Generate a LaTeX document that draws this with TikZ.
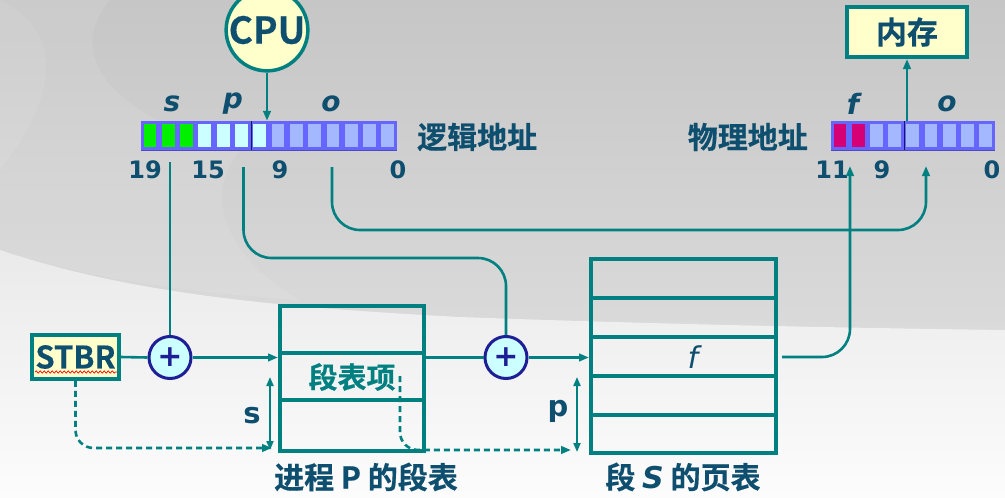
\documentclass[tikz,border=0pt]{standalone}
\usepackage{fontspec}
\usetikzlibrary{arrows.meta,calc,decorations.pathmorphing}
\newfontfamily\cjk{Noto Sans CJK SC}[BoldFont={Noto Sans CJK SC Bold}, BoldFeatures={FakeBold=0.5}]
\newfontfamily\lat{Noto Sans CJK SC}[BoldFont={Noto Sans CJK SC Bold}, BoldFeatures={FakeBold=0.3}]
\newfontfamily\dv{DejaVu Sans}
\definecolor{tl}{RGB}{0,128,128}
\definecolor{nv}{RGB}{14,78,110}
\definecolor{ly}{RGB}{255,255,204}
\definecolor{rb}{RGB}{102,102,255}
\definecolor{cb}{RGB}{163,184,255}
\definecolor{cc}{RGB}{204,255,255}
\definecolor{gg}{RGB}{0,240,0}
\definecolor{mg}{RGB}{214,0,118}
\definecolor{ad}{RGB}{30,30,150}
\definecolor{bgtop}{RGB}{198,198,198}
\definecolor{bgmid}{RGB}{218,218,218}
\definecolor{bglo}{RGB}{234,234,234}
\definecolor{bgbot}{RGB}{252,252,252}
\begin{document}
\begin{tikzpicture}[x=1pt,y=-1pt,
  ln/.style={draw=tl, line width=2.6},
  tip/.style={-{Triangle[length=10pt,width=7.5pt]}},
  dtip/.style={{Triangle[length=9pt,width=7pt]}-{Triangle[length=9pt,width=7pt]}},
  dsh/.style={draw=tl, line width=2.6, dash pattern=on 6pt off 4pt},
  ybox/.style={draw=tl, line width=4, fill=ly, inner sep=0},
  adder/.style={circle, draw=ad, line width=3, fill=cc, minimum size=42, inner sep=0,
     text=ad, font=\dv\bfseries\fontsize{30}{30}\selectfont},
  tab/.style={draw=tl, line width=4, inner sep=0},
  reg/.style={fill=rb, inner sep=0},
  num/.style={text=nv, inner sep=0, font=\dv\bfseries\fontsize{24}{26}\selectfont},
  fld/.style={text=nv, inner sep=0, font=\dv\bfseries\itshape\fontsize{28}{30}\selectfont},
  cjkl/.style={text=nv, inner sep=0, font=\cjk\bfseries\fontsize{30}{32}\selectfont},
  sml/.style={text=nv, inner sep=0, font=\dv\bfseries\fontsize{29}{32}\selectfont}]
% background
\useasboundingbox (0,0) rectangle (1005,498);
\shade[top color=bgtop, bottom color=bgmid] (0,0) rectangle (1005,330);
\shade[top color=bglo, bottom color=bgbot] (0,250) .. controls (120,290) and (250,306) .. (460,317)
   .. controls (650,324) and (850,328) .. (1005,330) -- (1005,498) -- (0,498) -- cycle;
\fill[white, opacity=0.09] (0,0) -- (110,0) .. controls (60,60) and (120,120) .. (240,150)
   .. controls (200,200) and (230,260) .. (300,300) .. controls (150,290) and (60,270) .. (0,250) -- cycle;
\fill[white, opacity=0.07] (0,0) .. controls (80,40) and (40,120) .. (0,170) -- cycle;

% CPU
\node[circle, draw=tl, line width=3.5, fill=ly, minimum size=78, inner sep=0,
  text=nv, font=\lat\bfseries\fontsize{37}{38}\selectfont] (cpu) at (267,30) {CPU};

% logical address register
\node[reg, minimum width=256, minimum height=29] (laddr) at (269,135.5) {};
\foreach \i/\c in {0/gg,1/gg,2/gg,3/cc,4/cc,5/cc,6/cc,7/cb,8/cb,9/cb,10/cb,11/cb,12/cb,13/cb}
  \fill[\c] ($(laddr.north west)+(2.8+18.29*\i,3.5)$) rectangle ++(12.8,22.5);
\draw[ad!70!black, line width=1] ($(laddr.north west)+(110.7,0)$) -- ++(0,29);
\draw[rb!75!black, line width=1] (laddr.south west) -- (laddr.south east);
\node[fld] (ls) at (172,104) {s};
\node[fld] (lp) at (233,104) {p};
\node[fld] (lo) at (331,104) {o};
\node[num] (n19) at (145,170) {19};
\node[num] (n15) at (208,170) {15};
\node[num] (n9) at (280,170) {9};
\node[num] (n0) at (398,170) {0};
\node[cjkl, anchor=west] (llab) at (417,137) {逻辑地址};

% physical address register
\node[reg, minimum width=164, minimum height=29] (paddr) at (913,135.5) {};
\foreach \i/\c in {0/mg,1/mg,2/cb,3/cb,4/cb,5/cb,6/cb,7/cb,8/cb}
  \fill[\c] ($(paddr.north west)+(2.8+18.2*\i,3.5)$) rectangle ++(12.8,22.5);
\draw[ad!70!black, line width=1] ($(paddr.north west)+(73.6,0)$) -- ++(0,29);
\draw[rb!75!black, line width=1] (paddr.south west) -- (paddr.south east);
\node[fld] (pf) at (853,104) {f};
\node[fld] (po) at (947,104) {o};
\node[num] (m11) at (832,170) {11};
\node[num] (m9) at (882,170) {9};
\node[num] (m0) at (992,170) {0};
\node[cjkl, anchor=east] (plab) at (808,137) {物理地址};

% memory
\node[ybox, minimum width=120, minimum height=50, text=nv,
  font=\cjk\bfseries\fontsize{31}{32}\selectfont] (mem) at (907,32) {内存};

% STBR and adders
\node[ybox, line width=3.5, minimum width=87, minimum height=44, text=nv,
  font=\lat\bfseries\fontsize{31}{32}\selectfont] (stbr) at (75.5,357) {STBR};
\draw[red, line width=0.7, decorate, decoration={snake, amplitude=1.1pt, segment length=4pt}]
  (35,372) -- (117,372);
\node[adder] (add1) at (170,357.5) {+};
\node[adder] (add2) at (506,357.5) {+};

% segment table
\node[tab, minimum width=144, minimum height=145] (segtab) at (352,378.5) {};
\draw[tl, line width=4] (segtab.west |- 0,353) -- (segtab.east |- 0,353);
\draw[tl, line width=4] (segtab.west |- 0,400) -- (segtab.east |- 0,400);
\node[text=tl, inner sep=0, font=\cjk\bfseries\fontsize{29}{30}\selectfont] (sent) at (352,377) {段表项};
\node[cjkl] (sname) at (366,477) {进程 {\lat\bfseries P} 的段表};

% page table
\node[tab, minimum width=185, minimum height=194] (pagetab) at (683.5,356) {};
\foreach \y in {298,337,376,415}
  \draw[tl, line width=4] (pagetab.west |- 0,\y) -- (pagetab.east |- 0,\y);
\node[text=nv, inner sep=0, font=\dv\itshape\fontsize{30}{32}\selectfont] (fent) at (693,357) {f};
\node[cjkl] (pname) at (683,477) {段 {\dv\bfseries\itshape S} 的页表};

% side labels
\node[sml] (slab) at (252,416) {s};
\node[sml] (plabel) at (558,411) {p};

% coordinates
\coordinate (stap) at (170,162);
\coordinate (ptap) at (243.5,167);
\coordinate (otap) at (332,167);
\coordinate (otip) at (926,166);
\coordinate (ftap) at (782,357);
\coordinate (ftip) at (850,166);
\coordinate (s1) at (270,377);
\coordinate (s2) at (270,450);
\coordinate (p1) at (577,377);
\coordinate (p2) at (577,452);
\coordinate (send) at (272,448);
\coordinate (dstart) at (400,376);
\coordinate (pend) at (571,450);

% connectors
\draw[ln, tip] (cpu.south) -- (cpu.south |- laddr.north);
\draw[ln, tip] (mem.south |- paddr.north) -- (mem.south);
\draw[ln] (stap) -- (add1.north);
\draw[ln, rounded corners=28] (ptap) -- (243.5,258) -- (506,258) -- (add2.north);
\draw[ln, rounded corners=28, tip] (otap) -- (332,230) -- (926,230) -- (otip);
\draw[ln, rounded corners=28, tip] (ftap) -- (850,357) -- (ftip);
\draw[ln] (stbr.east) -- (add1.west);
\draw[ln, tip] (add1.east) -- (segtab.west |- add1.east);
\draw[ln] (segtab.east |- add2.west) -- (add2.west);
\draw[ln, tip] (add2.east) -- (pagetab.west |- add2.east);
\draw[ln, line width=2, dtip] (s1) -- (s2);
\draw[ln, line width=2, dtip] (p1) -- (p2);
\draw[dsh, rounded corners=18, tip] (stbr.south) -- (stbr.south |- send) -- (send);
\draw[dsh, rounded corners=18, tip] (dstart) -- (dstart |- pend) -- (pend);
\end{tikzpicture}
\end{document}
